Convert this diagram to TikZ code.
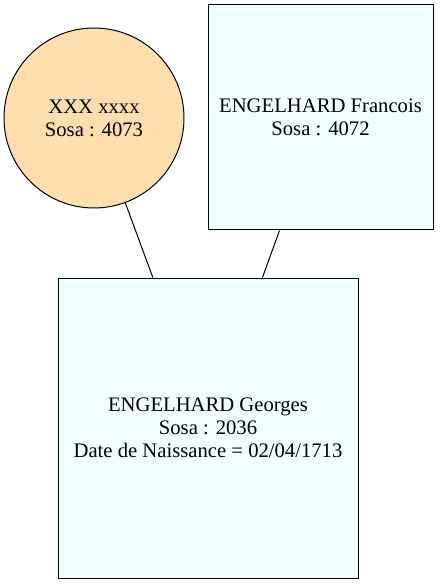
\documentclass[tikz,border=0pt]{standalone}
\usepackage{fontspec}
\setmainfont{Liberation Serif}
\usepackage{tikz}
\definecolor{sosaazure}{RGB}{240,255,255}
\definecolor{sosanavajo}{RGB}{255,222,173}
\tikzset{
    sosabox/.style={draw=black, line width=0.75pt, fill=sosaazure, rectangle, align=center, inner sep=0pt, font=\fontsize{15.5}{17.25}\selectfont},
    sosacirc/.style={draw=black, line width=0.75pt, fill=sosanavajo, circle, align=center, inner sep=0pt, font=\fontsize{15.5}{17.25}\selectfont},
}
\begin{document}
\begin{tikzpicture}[x=0.75pt, y=-0.75pt]
                \useasboundingbox (0,0) rectangle (440,584);

                \node[sosacirc, minimum size=135pt] (mother) at (94,118) {XXX xxxx\\Sosa : 4073};
                \node[sosabox, minimum size=168.75pt] (father) at (320.5,117.5) {ENGELHARD Francois\\Sosa : 4072};
                \node[sosabox, minimum size=225pt] (child) at (208,428) {ENGELHARD Georges\\Sosa : 2036\\Date de Naissance = 02/04/1713};

                \draw[line width=0.75pt] (mother) -- (child);
                \draw[line width=0.75pt] (father) -- (child);

            \end{tikzpicture}
\end{document}
